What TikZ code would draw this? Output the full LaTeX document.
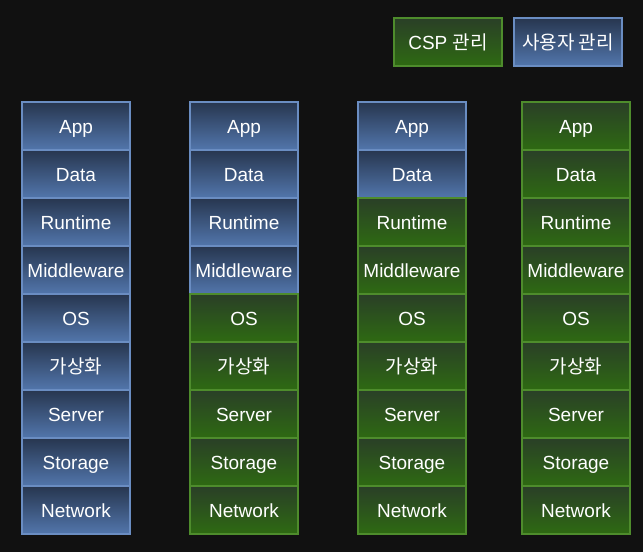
\documentclass[tikz,border=0pt]{standalone}
\usepackage{fontspec}
\setmainfont{Liberation Sans}
\newfontfamily\krfont{Noto Sans CJK KR}
\usetikzlibrary{positioning}
\definecolor{bgdark}{HTML}{111111}
\definecolor{usertop}{HTML}{27364F}
\definecolor{userbot}{HTML}{5276AC}
\definecolor{userline}{HTML}{6A8DC2}
\definecolor{csptop}{HTML}{2A3F27}
\definecolor{cspbot}{HTML}{2E6A12}
\definecolor{cspline}{HTML}{4E8C2C}
\tikzset{
  layer/.style={minimum width=108pt,minimum height=48pt,inner sep=0pt,outer sep=0pt,
    text height=14pt,text depth=0pt,
    line width=1.3pt,text=white,font=\fontsize{19}{21}\selectfont},
  userbox/.style={layer,draw=userline,top color=usertop,bottom color=userbot},
  cspbox/.style={layer,draw=cspline,top color=csptop,bottom color=cspbot}
}
\begin{document}
\begin{tikzpicture}[x=1pt,y=-1pt]
\fill[bgdark] (0,0) rectangle (643,552);

\node[cspbox] (csp) at (448,42) {CSP {\krfont 관리}};
\node[userbox,right=12pt of csp] (user) {{\krfont 사용자 관리}};

\foreach \col/\xc/\lim in {1/76/9,2/244/4,3/412/2,4/576/0}{
  \foreach \lbl [count=\r] in {App,Data,Runtime,Middleware,OS,{\krfont 가상화},Server,Storage,Network}{
    \ifnum\r>\lim \def\sty{cspbox}\else\def\sty{userbox}\fi
    \ifnum\r=1
      \node[\sty] (c\col-1) at (\xc,126) {\lbl};
    \else
      \pgfmathtruncatemacro\prev{\r-1}
      \node[\sty,below=0pt of c\col-\prev] (c\col-\r) {\lbl};
    \fi
  }
}
\end{tikzpicture}
\end{document}
